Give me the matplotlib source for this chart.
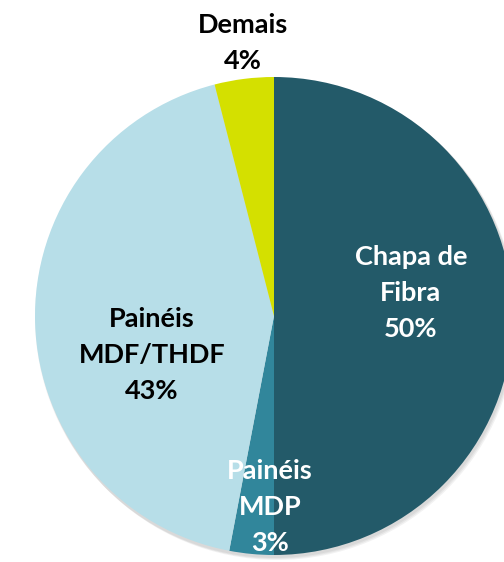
import matplotlib
matplotlib.use("Agg")
import matplotlib.pyplot as plt
from matplotlib.patches import Ellipse

categories = ["Chapa de\nFibra", "Painéis\nMDP", "Painéis\nMDF/THDF", "Demais"]
values = [50, 3, 43, 4]

colors = ["#235a69", "#31869b", "#b7dee8", "#d4e000"]
text_colors = ["white", "white", "black", "black"]
# label anchor positions in pixel coords (x, y from top)
label_pos = [(411, 293), (270, 507), (152, 355), (243, 43)]

W, H = 504, 562
fig = plt.figure(figsize=(W / 100, H / 100), dpi=100)
ax = fig.add_axes([0, 0, 1, 1])

cx, cy, r = 274, H - 316, 239

# soft shadow
for i in range(3):
    ax.add_patch(Ellipse((cx + 1 + i, cy - 2 - i), 2 * r + 2, 2 * r + 2,
                         facecolor="black", alpha=0.05, edgecolor="none", zorder=0))

wedges, _ = ax.pie(values, colors=colors, startangle=90, counterclock=False,
                   center=(cx, cy), radius=r, frame=True,
                   wedgeprops=dict(linewidth=0, edgecolor="none"))
ax.set_xlim(0, W)
ax.set_ylim(0, H)
ax.set_aspect("auto")
ax.axis("off")

for cat, val, (x, y), tc in zip(categories, values, label_pos, text_colors):
    ax.text(x, H - y, f"{cat}\n{val}%", ha="center", va="center",
            fontsize=19.5, fontweight="bold", color=tc, family="Lato",
            linespacing=1.6, zorder=5)

fig.savefig("out.png", dpi=100)
